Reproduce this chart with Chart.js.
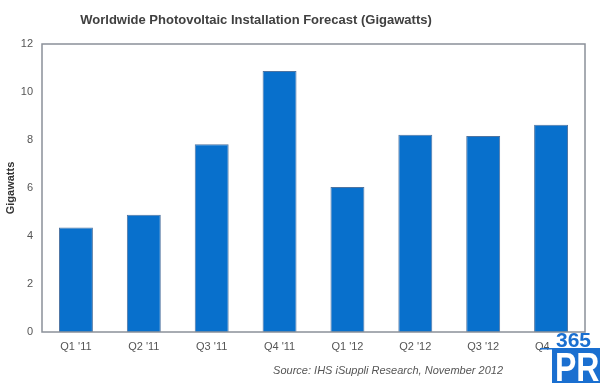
<!DOCTYPE html>
<html>
<head>
<meta charset="utf-8">
<script src="https://cdn.jsdelivr.net/npm/chart.js@4/dist/chart.umd.min.js"></script>
<style>
html,body{margin:0;padding:0;background:#fff;}
#wrap{width:600px;height:383px;position:relative;}
</style>
</head>
<body>
<div id="wrap"><canvas id="c" width="600" height="383"></canvas></div>
<script>
const categories = ["Q1 '11","Q2 '11","Q3 '11","Q4 '11","Q1 '12","Q2 '12","Q3 '12","Q4 '12"];
const gigawatts = [4.35, 4.89, 7.82, 10.88, 6.04, 8.22, 8.17, 8.64];
const yTicks = [0, 2, 4, 6, 8, 10, 12];
const titleText = "Worldwide Photovoltaic Installation Forecast (Gigawatts)";
const yTitle = "Gigawatts";
const sourceText = "Source: IHS iSuppli Research, November 2012";
const logoTop = "365";
const logoBottom = "PR";

const FONT = "'Liberation Sans', Arial, sans-serif";

const decor = {
  id: 'decor',
  beforeDatasetsDraw(chart) {
    const ctx = chart.ctx;
    ctx.save();
    ctx.fillStyle = '#404040';
    ctx.font = "bold 13px " + FONT;
    ctx.textAlign = 'center';
    ctx.textBaseline = 'middle';
    ctx.fillText(titleText, 256, 20);
    ctx.restore();
  },
  afterDraw(chart) {
    const ctx = chart.ctx;
    const a = chart.chartArea;
    ctx.save();
    ctx.strokeStyle = '#8b9099';
    ctx.lineWidth = 1.5;
    ctx.strokeRect(a.left, a.top, a.right - a.left, a.bottom - a.top);
    // source
    ctx.fillStyle = '#555';
    ctx.font = "italic 11px " + FONT;
    ctx.textAlign = 'right';
    ctx.textBaseline = 'alphabetic';
    ctx.fillText(sourceText, 503, 374);
    // logo
    ctx.fillStyle = '#ffffff';
    ctx.fillRect(549, 334, 51, 15);
    ctx.fillStyle = '#1a6fd0';
    ctx.font = "bold 21px " + FONT;
    ctx.textAlign = 'left';
    ctx.textBaseline = 'alphabetic';
    ctx.fillText(logoTop, 556, 347);
    ctx.fillRect(540, 348, 60, 1.5);
    ctx.fillRect(552, 349, 48, 34);
    ctx.fillStyle = '#ffffff';
    ctx.font = "bold 40px " + FONT;
    ctx.translate(555, 381);
    ctx.scale(0.8, 1);
    ctx.fillText(logoBottom, 0, 0);
    ctx.restore();
  }
};

new Chart(document.getElementById('c'), {
  type: 'bar',
  data: {
    labels: categories,
    datasets: [{
      data: gigawatts,
      backgroundColor: '#0870cc',
      borderColor: '#4f74a0',
      borderWidth: 1,
      barPercentage: 0.5,
      categoryPercentage: 1.0
    }]
  },
  options: {
    responsive: false,
    animation: false,
    devicePixelRatio: 1,
    layout: { padding: { top: 44, right: 15, bottom: 0, left: 0 } },
    plugins: {
      legend: { display: false },
      title: { display: false },
      tooltip: { enabled: false }
    },
    scales: {
      x: {
        grid: { display: false, drawTicks: false },
        border: { display: false },
        ticks: { color: '#555', font: { size: 11, family: FONT }, padding: 8, maxRotation: 0, autoSkip: false },
        afterFit(s) { s.height = 51; }
      },
      y: {
        min: 0, max: 12,
        grid: { display: false, drawTicks: false },
        border: { display: false },
        afterBuildTicks(s) { s.ticks = yTicks.map(v => ({ value: v })); },
        ticks: { color: '#555', font: { size: 11, family: FONT }, padding: 9 },
        title: { display: true, text: yTitle, color: '#333', font: { size: 11, weight: 'bold', family: FONT }, padding: { top: 4, bottom: 0 } },
        afterFit(s) { s.width = 42; }
      }
    }
  },
  plugins: [decor]
});
</script>
</body>
</html>
